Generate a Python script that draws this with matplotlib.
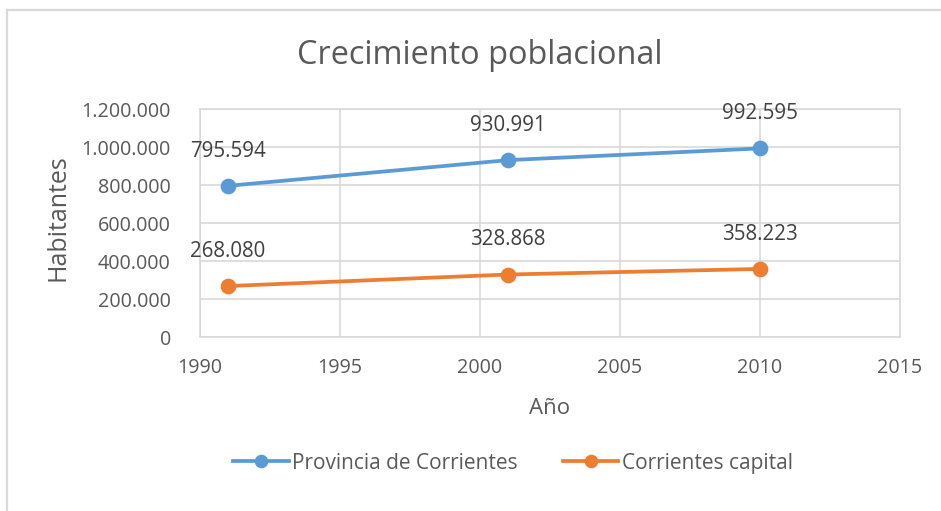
import matplotlib
matplotlib.use("Agg")
import matplotlib.pyplot as plt
from matplotlib.lines import Line2D
from matplotlib.ticker import FuncFormatter

years = [1991, 2001, 2010]
provincia = [795594, 930991, 992595]
capital = [268080, 328868, 358223]
series_names = ["Provincia de Corrientes", "Corrientes capital"]
title = "Crecimiento poblacional"
xlabel = "Año"
ylabel = "Habitantes"

plt.rcParams['font.family'] = ['Open Sans', 'DejaVu Sans']
TXT = '#595959'
BLUE = '#5B9BD5'
ORANGE = '#ED7D31'
GRID = '#D9D9D9'

W, H = 941, 511
fig = plt.figure(figsize=(W / 100, H / 100), dpi=100)
fig.patch.set_facecolor('white')

# plot area in pixels: left 200, right 900, top 109, bottom 337
ax = fig.add_axes([200 / W, 1 - 337 / H, 700 / W, 228 / H])

def fmt(v, pos=None):
    return f"{int(round(v)):,}".replace(",", ".")

for vals, col, name in [(provincia, BLUE, series_names[0]), (capital, ORANGE, series_names[1])]:
    ax.plot(years, vals, color=col, lw=2.7, marker='o', ms=10.3, label=name, zorder=3, clip_on=False)
    for x, y in zip(years, vals):
        ax.annotate(fmt(y), (x, y), xytext=(0, 25), textcoords='offset points', ha='center', va='center',
                    fontsize=14.8, color='#404040', zorder=4)

ax.set_xlim(1990, 2015)
ax.set_ylim(0, 1200000)
ax.set_xticks(range(1990, 2016, 5))
ax.set_yticks(range(0, 1200001, 200000))
ax.yaxis.set_major_formatter(FuncFormatter(fmt))
ax.grid(True, color=GRID, lw=1.2)
ax.set_axisbelow(True)
for s in ax.spines.values():
    s.set_color(GRID)
    s.set_linewidth(1.2)
ax.tick_params(axis='both', length=0, labelsize=14.2, labelcolor=TXT)
ax.tick_params(axis='y', pad=21)
ax.tick_params(axis='x', pad=15)

fig.text(550 / W, 1 - 408 / H, xlabel, ha='center', va='center', fontsize=16, color=TXT)
fig.text(58 / W, 1 - 218 / H, ylabel, ha='center', va='center', fontsize=18, color=TXT, rotation=90)

fig.text(480 / W, 1 - 55 / H, title, ha='center', va='center', fontsize=23.4, color=TXT)

leg = fig.legend(loc='center', bbox_to_anchor=(513 / W, 1 - 463 / H), ncol=2, frameon=False,
                 fontsize=15, labelcolor=TXT, handlelength=2.65, handletextpad=0.15, columnspacing=2.2,
                 markerscale=0.85)

# outer chart border
fig.add_artist(Line2D([6.5 / W, 1], [1 - 10.5 / H, 1 - 10.5 / H], color='#D9D9D9', lw=1.6, transform=fig.transFigure))
fig.add_artist(Line2D([6.5 / W, 6.5 / W], [0, 1 - 10.5 / H], color='#D9D9D9', lw=1.6, transform=fig.transFigure))

fig.savefig('out.png', dpi=100)
